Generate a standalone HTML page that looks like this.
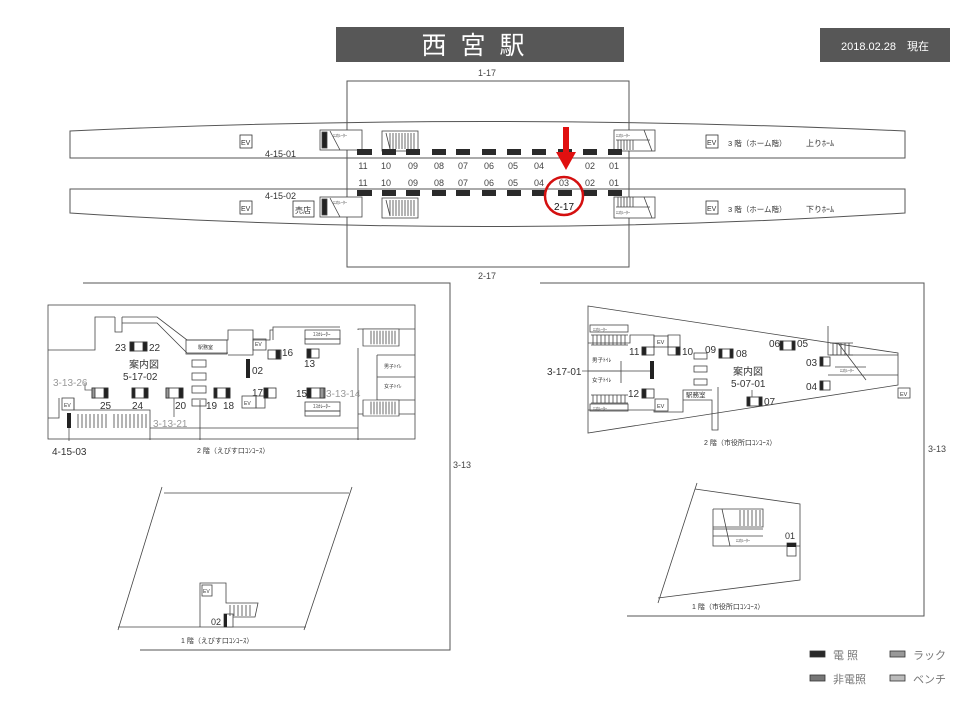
<!DOCTYPE html>
<html><head><meta charset="utf-8"><style>
html,body{margin:0;padding:0;background:#fff;}
svg{display:block;font-family:"Liberation Sans","Noto Sans CJK JP",sans-serif;}
</style></head><body>
<svg width="960" height="720" viewBox="0 0 960 720" xmlns="http://www.w3.org/2000/svg">
<defs>
<g id="stairH"><rect x="0" y="0" width="36" height="20" fill="#fff" stroke="#444" stroke-width="0.8"/><path d="M8 2V18M11 2V18M14 2V18M17 2V18M20 2V18M23 2V18M26 2V18M29 2V18M32 2V18" stroke="#444" stroke-width="0.8"/></g>
</defs>
<!-- title -->
<rect x="336" y="27" width="288" height="35" fill="#575757"/>
<text x="480" y="54" font-size="25" fill="#fff" text-anchor="middle" letter-spacing="14">西宮駅</text>
<rect x="820" y="28" width="130" height="34" fill="#575757"/>
<text x="885" y="50" font-size="11" fill="#fff" text-anchor="middle">2018.02.28　現在</text>

<g fill="none" stroke="#555" stroke-width="1">
<rect x="347" y="81" width="282" height="186"/>
<!-- upper platform -->
<path d="M70 131 Q480 112 905 131 L905 158 L70 158 Z" fill="none"/>
<!-- lower platform -->
<path d="M70 189 L905 189 L905 213 Q480 240 70 213 Z"/>
</g>
<text x="487" y="76" font-size="9" fill="#444" text-anchor="middle">1-17</text>
<text x="487" y="279" font-size="9" fill="#444" text-anchor="middle">2-17</text>

<g font-size="9" fill="#333">
<rect x="240" y="135" width="12" height="13" fill="#fff" stroke="#333" stroke-width="0.8"/><text x="241" y="145" font-size="7">EV</text>
<rect x="706" y="135" width="12" height="13" fill="#fff" stroke="#333" stroke-width="0.8"/><text x="707" y="145" font-size="7">EV</text>
<rect x="240" y="201" width="12" height="13" fill="#fff" stroke="#333" stroke-width="0.8"/><text x="241" y="211" font-size="7">EV</text>
<rect x="706" y="201" width="12" height="13" fill="#fff" stroke="#333" stroke-width="0.8"/><text x="707" y="211" font-size="7">EV</text>
<text x="728" y="146" font-size="7.5">3 階（ホーム階）</text>
<text x="806" y="146" font-size="8">上りﾎｰﾑ</text>
<text x="728" y="212" font-size="7.5">3 階（ホーム階）</text>
<text x="806" y="212" font-size="8">下りﾎｰﾑ</text>
<rect x="293" y="201" width="21" height="16" fill="#fff" stroke="#333" stroke-width="0.8"/><text x="295" y="213" font-size="8">売店</text>
<text x="265" y="157" font-size="9">4-15-01</text>
<text x="265" y="199" font-size="9">4-15-02</text>
</g>
<!-- escalators platform -->
<g stroke="#444" stroke-width="0.8" fill="#fff">
<rect x="320" y="130" width="42" height="20"/><rect x="322" y="132" width="5" height="16" fill="#222"/><path d="M330 131L340 150"/>
<rect x="320" y="197" width="42" height="20"/><rect x="322" y="199" width="5" height="16" fill="#222"/><path d="M330 198L340 217"/>
<rect x="614" y="130" width="41" height="21"/><path d="M616 140H650M618 140V150M621 140V150M624 140V150M627 140V150M630 140V150M633 140V150M644 130L652 151"/>
<rect x="614" y="197" width="41" height="21"/><path d="M616 207H650M618 197V207M621 197V207M624 197V207M627 197V207M630 197V207M633 197V207M644 197L652 218"/>
</g>
<g font-size="4" fill="#333"><text x="333" y="137">ｴｽｶﾚｰﾀｰ</text><text x="333" y="204">ｴｽｶﾚｰﾀｰ</text><text x="616" y="137">ｴｽｶﾚｰﾀｰ</text><text x="616" y="214">ｴｽｶﾚｰﾀｰ</text></g>
<use href="#stairH" x="382" y="131"/>
<use href="#stairH" x="382" y="198"/>
<path d="M386 133L390 149M386 200L390 216" stroke="#444" stroke-width="0.8"/>

<!-- platform lamps -->
<g fill="#2a2a2a">
<rect x="357" y="149" width="15" height="6"/><rect x="382" y="149" width="14" height="6"/><rect x="406" y="149" width="14" height="6"/><rect x="432" y="149" width="14" height="6"/><rect x="456" y="149" width="14" height="6"/><rect x="482" y="149" width="14" height="6"/><rect x="507" y="149" width="14" height="6"/><rect x="532" y="149" width="14" height="6"/><rect x="558" y="149" width="14" height="6"/><rect x="583" y="149" width="14" height="6"/><rect x="608" y="149" width="14" height="6"/>
<rect x="357" y="190" width="15" height="6"/><rect x="382" y="190" width="14" height="6"/><rect x="406" y="190" width="14" height="6"/><rect x="432" y="190" width="14" height="6"/><rect x="456" y="190" width="14" height="6"/><rect x="482" y="190" width="14" height="6"/><rect x="507" y="190" width="14" height="6"/><rect x="532" y="190" width="14" height="6"/><rect x="558" y="190" width="14" height="6"/><rect x="583" y="190" width="14" height="6"/><rect x="608" y="190" width="14" height="6"/>
</g>
<g font-size="9" fill="#444" text-anchor="middle">
<text x="363" y="169">11</text><text x="386" y="169">10</text><text x="413" y="169">09</text><text x="439" y="169">08</text><text x="463" y="169">07</text><text x="489" y="169">06</text><text x="513" y="169">05</text><text x="539" y="169">04</text><text x="590" y="169">02</text><text x="614" y="169">01</text>
<text x="363" y="186">11</text><text x="386" y="186">10</text><text x="413" y="186">09</text><text x="439" y="186">08</text><text x="463" y="186">07</text><text x="489" y="186">06</text><text x="513" y="186">05</text><text x="539" y="186">04</text><text x="564" y="186">03</text><text x="590" y="186">02</text><text x="614" y="186">01</text>
</g>
<!-- red marker -->
<rect x="563" y="127" width="6" height="27" fill="#e01010"/>
<path d="M556 152L576 152L566 170Z" fill="#e01010"/>
<circle cx="564" cy="196" r="19" fill="none" stroke="#d41010" stroke-width="2.5"/>
<text x="564" y="210" font-size="10" fill="#111" text-anchor="middle">2-17</text>

<!-- frames -->
<g fill="none" stroke="#555" stroke-width="1">
<path d="M83 283H450V650H140"/>
<path d="M540 283H924V616H627"/>
</g>
<text x="462" y="468" font-size="9" fill="#444" text-anchor="middle">3-13</text>
<text x="937" y="452" font-size="9" fill="#444" text-anchor="middle">3-13</text>

<!-- 2F left -->
<g fill="none" stroke="#444" stroke-width="0.8">
<rect x="48" y="305" width="367" height="134"/>
<path d="M48 350H95V317H115M115 317V332H122V317M122 323H157L187 353M122 317H157L187 340H228V330H253V355H228M187 353H228"/>
<path d="M253 340H270V330H273V327H340M273 330V340"/>
<path d="M358 348V440M358 330V329H415M377 355H415M377 400H415M377 355V400M377 377H415M358 414H415"/>
<path d="M48 418H59V398M74 398V410H150V440M150 428H358"/>
<path d="M200 400V440"/>
<rect x="186" y="340" width="41" height="14"/>
<rect x="253" y="339" width="13" height="11"/>
<rect x="242" y="396" width="14" height="12"/>
<rect x="256" y="396" width="9" height="12"/>
<rect x="305" y="330" width="35" height="9"/><rect x="305" y="339" width="35" height="5"/>
<rect x="305" y="402" width="35" height="9"/><rect x="305" y="411" width="35" height="5"/>
<rect x="62" y="398" width="12" height="12"/>
<rect x="192" y="360" width="14" height="7"/><rect x="192" y="373" width="14" height="7"/><rect x="192" y="386" width="14" height="7"/><rect x="192" y="399" width="14" height="7"/>
</g>
<use href="#stairH" x="363" y="329" transform="translate(363 329) scale(1 0.85) translate(-363 -329)"/>
<use href="#stairH" x="363" y="400" transform="translate(363 400) scale(1 0.8) translate(-363 -400)"/>
<g stroke="#444" stroke-width="0.8"><path d="M78 414V428M82 414V428M86 414V428M90 414V428M94 414V428M98 414V428M102 414V428M106 414V428M114 414V428M118 414V428M122 414V428M126 414V428M130 414V428M134 414V428M138 414V428M142 414V428M146 414V428"/></g>
<!-- fixtures 2F left -->
<g stroke="#333" stroke-width="0.8">
<rect x="130" y="342" width="17" height="9" fill="#fff"/><rect x="130" y="342" width="4" height="9" fill="#222"/><rect x="143" y="342" width="4" height="9" fill="#222"/>
<rect x="92" y="388" width="16" height="10" fill="#fff"/><rect x="92" y="388" width="3" height="10" fill="#999"/><rect x="104" y="388" width="4" height="10" fill="#222"/>
<rect x="132" y="388" width="16" height="10" fill="#fff"/><rect x="132" y="388" width="3" height="10" fill="#222"/><rect x="144" y="388" width="4" height="10" fill="#222"/>
<rect x="166" y="388" width="17" height="10" fill="#fff"/><rect x="166" y="388" width="3" height="10" fill="#999"/><rect x="179" y="388" width="4" height="10" fill="#222"/>
<rect x="214" y="388" width="16" height="10" fill="#fff"/><rect x="214" y="388" width="3" height="10" fill="#222"/><rect x="226" y="388" width="4" height="10" fill="#222"/>
<rect x="264" y="388" width="12" height="10" fill="#fff"/><rect x="264" y="388" width="4" height="10" fill="#222"/>
<rect x="268" y="350" width="13" height="9" fill="#fff"/><rect x="276" y="350" width="4" height="9" fill="#222"/>
<rect x="307" y="349" width="12" height="9" fill="#fff"/><rect x="307" y="349" width="4" height="9" fill="#222"/>
<rect x="307" y="388" width="18" height="10" fill="#fff"/><rect x="307" y="388" width="4" height="10" fill="#222"/><rect x="320" y="388" width="4" height="10" fill="#999"/>
</g>
<rect x="246" y="359" width="4" height="19" fill="#222"/>
<rect x="67" y="413" width="4" height="15" fill="#222"/>
<path d="M69 428V441M174 398V417M85 383V390H92" stroke="#555" fill="none" stroke-width="0.8"/>
<g font-size="10" fill="#333">
<text x="115" y="351">23</text><text x="149" y="351">22</text>
<text x="129" y="368">案内図</text><text x="123" y="380">5-17-02</text>
<text x="53" y="386" fill="#999">3-13-26</text>
<text x="100" y="409">25</text><text x="132" y="409">24</text><text x="175" y="409">20</text>
<text x="153" y="427" fill="#999">3-13-21</text>
<text x="206" y="409">19</text><text x="223" y="409">18</text>
<text x="252" y="374">02</text><text x="252" y="396">17</text>
<text x="282" y="356">16</text><text x="304" y="367">13</text>
<text x="296" y="397">15</text><text x="326" y="397" fill="#999">3-13-14</text>
<text x="52" y="455">4-15-03</text>
</g>
<g font-size="5" fill="#333"><text x="198" y="349">駅務室</text><text x="313" y="336">ｴｽｶﾚｰﾀｰ</text><text x="313" y="408">ｴｽｶﾚｰﾀｰ</text><text x="384" y="368">男子ﾄｲﾚ</text><text x="384" y="388">女子ﾄｲﾚ</text><text x="64" y="407" font-size="5">EV</text><text x="244" y="405">EV</text><text x="255" y="346">EV</text></g>
<text x="197" y="453" font-size="7" fill="#333">2 階（えびす口ｺﾝｺｰｽ）</text>

<!-- 2F right -->
<g fill="none" stroke="#444" stroke-width="0.8">
<path d="M588 306L898 353V385L588 433Z"/>
<path d="M828 326V355H898M828 375H898M838 343L866 380"/>
<path d="M588 410H654V412H683V400H712V430H718V387M683 400V390H712"/>
<path d="M588 343H630V335H654V347M668 347V335H680V355"/>
<path d="M621 361V383M588 371H650"/>
<rect x="654" y="336" width="14" height="11"/>
<rect x="655" y="399" width="13" height="12"/>
<rect x="590" y="325" width="38" height="7"/>
<rect x="590" y="404" width="38" height="7"/>
<rect x="898" y="388" width="12" height="10"/>
<rect x="694" y="353" width="13" height="6"/><rect x="694" y="366" width="13" height="6"/><rect x="694" y="379" width="13" height="6"/>
<path d="M835 367H866"/>
</g>
<g stroke="#444" stroke-width="0.8"><path d="M591 335H628M591 345H628M593 335V345M597 335V345M601 335V345M605 335V345M609 335V345M613 335V345M617 335V345M621 335V345M625 335V345"/>
<path d="M591 395H628M591 403H628M593 395V403M597 395V403M601 395V403M605 395V403M609 395V403M613 395V403M617 395V403M621 395V403M625 395V403"/>
<path d="M830 343H853M830 355H853M833 343V355M837 343V355M841 343V355M845 343V355M849 343V355"/></g>
<g stroke="#333" stroke-width="0.8">
<rect x="642" y="347" width="12" height="8" fill="#fff"/><rect x="642" y="347" width="4" height="8" fill="#222"/>
<rect x="668" y="347" width="12" height="8" fill="#fff"/><rect x="676" y="347" width="4" height="8" fill="#222"/>
<rect x="719" y="349" width="14" height="9" fill="#fff"/><rect x="719" y="349" width="3" height="9" fill="#222"/><rect x="730" y="349" width="3" height="9" fill="#222"/>
<rect x="780" y="341" width="15" height="9" fill="#fff"/><rect x="780" y="341" width="3" height="9" fill="#222"/><rect x="792" y="341" width="3" height="9" fill="#222"/>
<rect x="820" y="357" width="10" height="9" fill="#fff"/><rect x="820" y="357" width="3" height="9" fill="#222"/>
<rect x="820" y="381" width="10" height="9" fill="#fff"/><rect x="820" y="381" width="3" height="9" fill="#222"/>
<rect x="747" y="397" width="15" height="9" fill="#fff"/><rect x="747" y="397" width="3" height="9" fill="#222"/><rect x="759" y="397" width="3" height="9" fill="#222"/>
<rect x="642" y="389" width="12" height="9" fill="#fff"/><rect x="642" y="389" width="4" height="9" fill="#222"/>
</g>
<rect x="650" y="361" width="4" height="18" fill="#222"/>
<path d="M582 371H621M752 390V397" stroke="#555" stroke-width="0.8"/>
<g font-size="10" fill="#333">
<text x="629" y="355">11</text><text x="682" y="355">10</text><text x="705" y="353">09</text><text x="736" y="357">08</text>
<text x="769" y="347">06</text><text x="797" y="347">05</text><text x="806" y="366">03</text><text x="806" y="390">04</text>
<text x="733" y="375">案内図</text><text x="731" y="387">5-07-01</text><text x="764" y="405">07</text>
<text x="628" y="397">12</text><text x="547" y="375">3-17-01</text>
</g>
<g font-size="5.5" fill="#333"><text x="592" y="362">男子ﾄｲﾚ</text><text x="592" y="382">女子ﾄｲﾚ</text><text x="686" y="397" font-size="6.5">駅務室</text><text x="657" y="344">EV</text><text x="657" y="408">EV</text><text x="900" y="396">EV</text><text x="593" y="331" font-size="4">ｴｽｶﾚｰﾀｰ</text><text x="593" y="410" font-size="4">ｴｽｶﾚｰﾀｰ</text><text x="840" y="372" font-size="4">ｴｽｶﾚｰﾀｰ</text></g>
<text x="704" y="445" font-size="7" fill="#333">2 階（市役所口ｺﾝｺｰｽ）</text>

<!-- 1F left -->
<g fill="none" stroke="#444" stroke-width="0.8">
<path d="M164 493H349M162 487L118 630M352 487L304 630M118 627H306"/>
<path d="M200 627V583H226V603H258L255 617H226"/>
<rect x="202" y="585" width="10" height="11"/>
<rect x="224" y="614" width="9" height="13" fill="#fff"/>
<path d="M230 605V616M234 605V616M238 605V616M242 605V616M246 605V616M250 605V616"/>
</g>
<rect x="224" y="614" width="3" height="13" fill="#222"/>
<text x="203" y="593" font-size="5" fill="#333">EV</text>
<text x="211" y="625" font-size="9" fill="#333">02</text>
<text x="181" y="643" font-size="7" fill="#333">1 階（えびす口ｺﾝｺｰｽ）</text>

<!-- 1F right -->
<g fill="none" stroke="#444" stroke-width="0.8">
<path d="M695 489L800 504V580L658 598M697 483L658 603"/>
<path d="M713 509H763V527H713M713 529H763M713 536H763M713 509V546H800M722 509L730 546"/>
<path d="M740 510V526M744 510V526M748 510V526M752 510V526M756 510V526M760 510V526"/>
<rect x="787" y="543" width="9" height="13" fill="#fff"/>
</g>
<rect x="787" y="543" width="9" height="4" fill="#222"/>
<text x="736" y="542" font-size="4" fill="#333">ｴｽｶﾚｰﾀｰ</text>
<text x="785" y="539" font-size="9" fill="#333">01</text>
<text x="692" y="609" font-size="7" fill="#333">1 階（市役所口ｺﾝｺｰｽ）</text>

<!-- legend -->
<g stroke="#333" stroke-width="0.8">
<rect x="810" y="651" width="15" height="6" fill="#2a2a2a"/>
<rect x="890" y="651" width="15" height="6" fill="#999"/>
<rect x="810" y="675" width="15" height="6" fill="#777"/>
<rect x="890" y="675" width="15" height="6" fill="#bbb"/>
</g>
<g font-size="11" fill="#777">
<text x="833" y="659">電 照</text><text x="913" y="659">ラック</text>
<text x="833" y="683">非電照</text><text x="913" y="683">ベンチ</text>
</g>
</svg>
</body></html>
